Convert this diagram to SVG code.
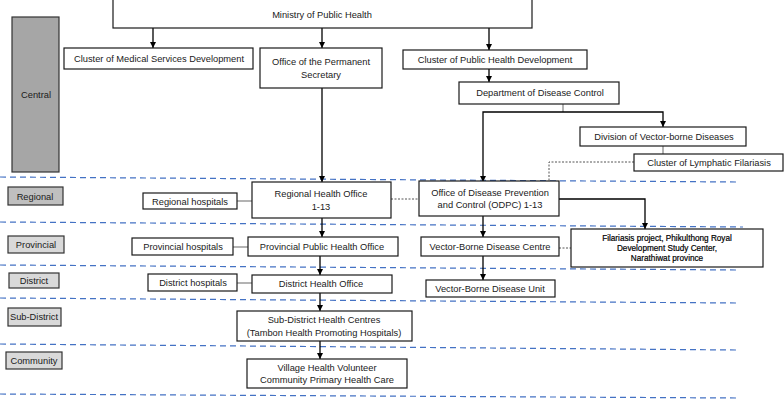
<svg xmlns="http://www.w3.org/2000/svg" width="784" height="400" viewBox="0 0 784 400">
<defs>
<marker id="ah" viewBox="0 0 10 10" refX="10" refY="5" markerWidth="6" markerHeight="6" markerUnits="userSpaceOnUse" orient="auto"><path d="M0,0 L10,5 L0,10 z" fill="#000"/></marker>
<style>
.box{fill:#fff;stroke:#1a1a1a;stroke-width:1.2}
.lvl1{fill:#a6a6a6;stroke:#333;stroke-width:1.2}
.lvlr{fill:#bfbfbf;stroke:#333;stroke-width:1.2}
.lvl2{fill:#d9d9d9;stroke:#333;stroke-width:1.2}
text{font-family:"Liberation Sans",Arial,sans-serif;font-size:9.3px;fill:#1a1a1a;text-anchor:middle}
.small{font-size:8.2px;fill:#000;stroke:#000;stroke-width:0.2}
.arr{fill:none;stroke:#000;stroke-width:1.3;marker-end:url(#ah)}
.gl{fill:none;stroke:#808080;stroke-width:1.2}
.dot{fill:none;stroke:#555;stroke-width:1;stroke-dasharray:2,1.5}
.dash{fill:none;stroke:#4472c4;stroke-width:1.2;stroke-dasharray:6,4}
</style>
</defs>
<g id="levels-dividers">
<line class="dash" x1="0" y1="177" x2="737" y2="182"/>
<line class="dash" x1="0" y1="222" x2="743" y2="227"/>
<line class="dash" x1="0" y1="265" x2="737" y2="270"/>
<line class="dash" x1="0" y1="298" x2="737" y2="303"/>
<line class="dash" x1="0" y1="344" x2="737" y2="350"/>
<line class="dash" x1="0" y1="394" x2="737" y2="398"/>
</g>
<g id="connectors">
<line class="arr" x1="153" y1="28" x2="153" y2="48"/>
<line class="arr" x1="322" y1="28" x2="322" y2="48"/>
<line class="arr" x1="489" y1="28" x2="489" y2="50"/>
<line class="arr" x1="489" y1="69" x2="489" y2="82"/>
<line class="gl" x1="563" y1="104" x2="563" y2="112"/>
<polyline class="arr" points="563,112 483,112 483,182"/>
<polyline class="arr" points="563,112 663,112 663,127"/>
<line class="gl" x1="663" y1="146" x2="663" y2="154"/>
<polyline class="dot" points="634,162 549,162 549,181"/>
<line class="arr" x1="322" y1="88" x2="322" y2="182"/>
<line class="gl" x1="237" y1="201" x2="252" y2="201"/>
<line class="dot" x1="391" y1="199" x2="419" y2="199"/>
<polyline class="arr" points="559,199 645,199 645,229"/>
<line class="arr" x1="483" y1="216" x2="483" y2="237"/>
<line class="dot" x1="559" y1="248" x2="571" y2="248"/>
<line class="arr" x1="483" y1="256" x2="483" y2="280"/>
<line class="arr" x1="322" y1="218" x2="322" y2="237"/>
<line class="gl" x1="233" y1="247" x2="248" y2="247"/>
<line class="arr" x1="320" y1="256" x2="320" y2="275"/>
<line class="gl" x1="237" y1="283" x2="252" y2="283"/>
<line class="arr" x1="320" y1="293" x2="320" y2="311"/>
<line class="arr" x1="320" y1="341" x2="320" y2="359"/>
</g>
<g id="central"><rect class="lvl1" x="12" y="17" width="47" height="155"/><text x="36" y="98">Central</text></g>
<g id="regional"><rect class="lvlr" x="8" y="187" width="55" height="18"/><text x="35" y="200">Regional</text></g>
<g id="provincial"><rect class="lvl2" x="8" y="236" width="56" height="17"/><text x="36" y="248">Provincial</text></g>
<g id="district"><rect class="lvl2" x="9" y="273" width="50" height="15"/><text x="34" y="284">District</text></g>
<g id="subdistrict"><rect class="lvl2" x="8" y="308" width="53" height="18"/><text x="34" y="320">Sub-District</text></g>
<g id="community"><rect class="lvl2" x="6" y="352" width="56" height="17"/><text x="34" y="364">Community</text></g>
<g id="ministry"><rect class="box" x="113" y="-1" width="419" height="29"/><text x="322" y="18">Ministry of Public Health</text></g>
<g id="cluster-medical"><rect class="box" x="64" y="48" width="189" height="21"/><text x="159" y="62">Cluster of Medical Services Development</text></g>
<g id="ops"><rect class="box" x="260" y="48" width="122" height="40"/><text x="321" y="65">Office of the Permanent</text><text x="321" y="78">Secretary</text></g>
<g id="cluster-public"><rect class="box" x="403" y="50" width="184" height="19"/><text x="495" y="63">Cluster of Public Health Development</text></g>
<g id="ddc"><rect class="box" x="459" y="82" width="160" height="22"/><text x="540" y="96">Department of Disease Control</text></g>
<g id="division"><rect class="box" x="580" y="127" width="166" height="19"/><text x="664" y="140">Division of Vector-borne Diseases</text></g>
<g id="clf"><rect class="box" x="634" y="154" width="149" height="17"/><text x="709" y="166">Cluster of Lymphatic Filariasis</text></g>
<g id="rho"><rect class="box" x="252" y="182" width="139" height="36"/><text x="321" y="197">Regional Health Office</text><text x="321" y="210">1-13</text></g>
<g id="regional-hospitals"><rect class="box" x="143" y="193" width="94" height="16"/><text x="190" y="205">Regional hospitals</text></g>
<g id="odpc"><rect class="box" x="419" y="181" width="140" height="35"/><text x="490" y="196">Office of Disease Prevention</text><text x="490" y="208">and Control (ODPC) 1-13</text></g>
<g id="filariasis"><rect class="box" x="571" y="229" width="192" height="38"/><text class="small" x="667" y="241">Filariasis project, Phikulthong Royal</text><text class="small" x="667" y="251">Development Study Center,</text><text class="small" x="667" y="261">Narathiwat province</text></g>
<g id="provincial-hospitals"><rect class="box" x="132" y="238" width="101" height="17"/><text x="183" y="250">Provincial hospitals</text></g>
<g id="ppho"><rect class="box" x="248" y="237" width="150" height="19"/><text x="322" y="250">Provincial Public Health Office</text></g>
<g id="vbdc"><rect class="box" x="421" y="237" width="138" height="19"/><text x="490" y="250">Vector-Borne Disease Centre</text></g>
<g id="district-hospitals"><rect class="box" x="148" y="274" width="89" height="17"/><text x="193" y="286">District hospitals</text></g>
<g id="dho"><rect class="box" x="252" y="275" width="140" height="18"/><text x="321" y="287">District Health Office</text></g>
<g id="vbdu"><rect class="box" x="426" y="280" width="129" height="17"/><text x="490" y="292">Vector-Borne Disease Unit</text></g>
<g id="sdhc"><rect class="box" x="237" y="311" width="175" height="30"/><text x="324" y="323">Sub-District Health Centres</text><text x="324" y="336">(Tambon Health Promoting Hospitals)</text></g>
<g id="vhv"><rect class="box" x="247" y="359" width="160" height="29"/><text x="327" y="371">Village Health Volunteer</text><text x="327" y="383">Community Primary Health Care</text></g>
</svg>
